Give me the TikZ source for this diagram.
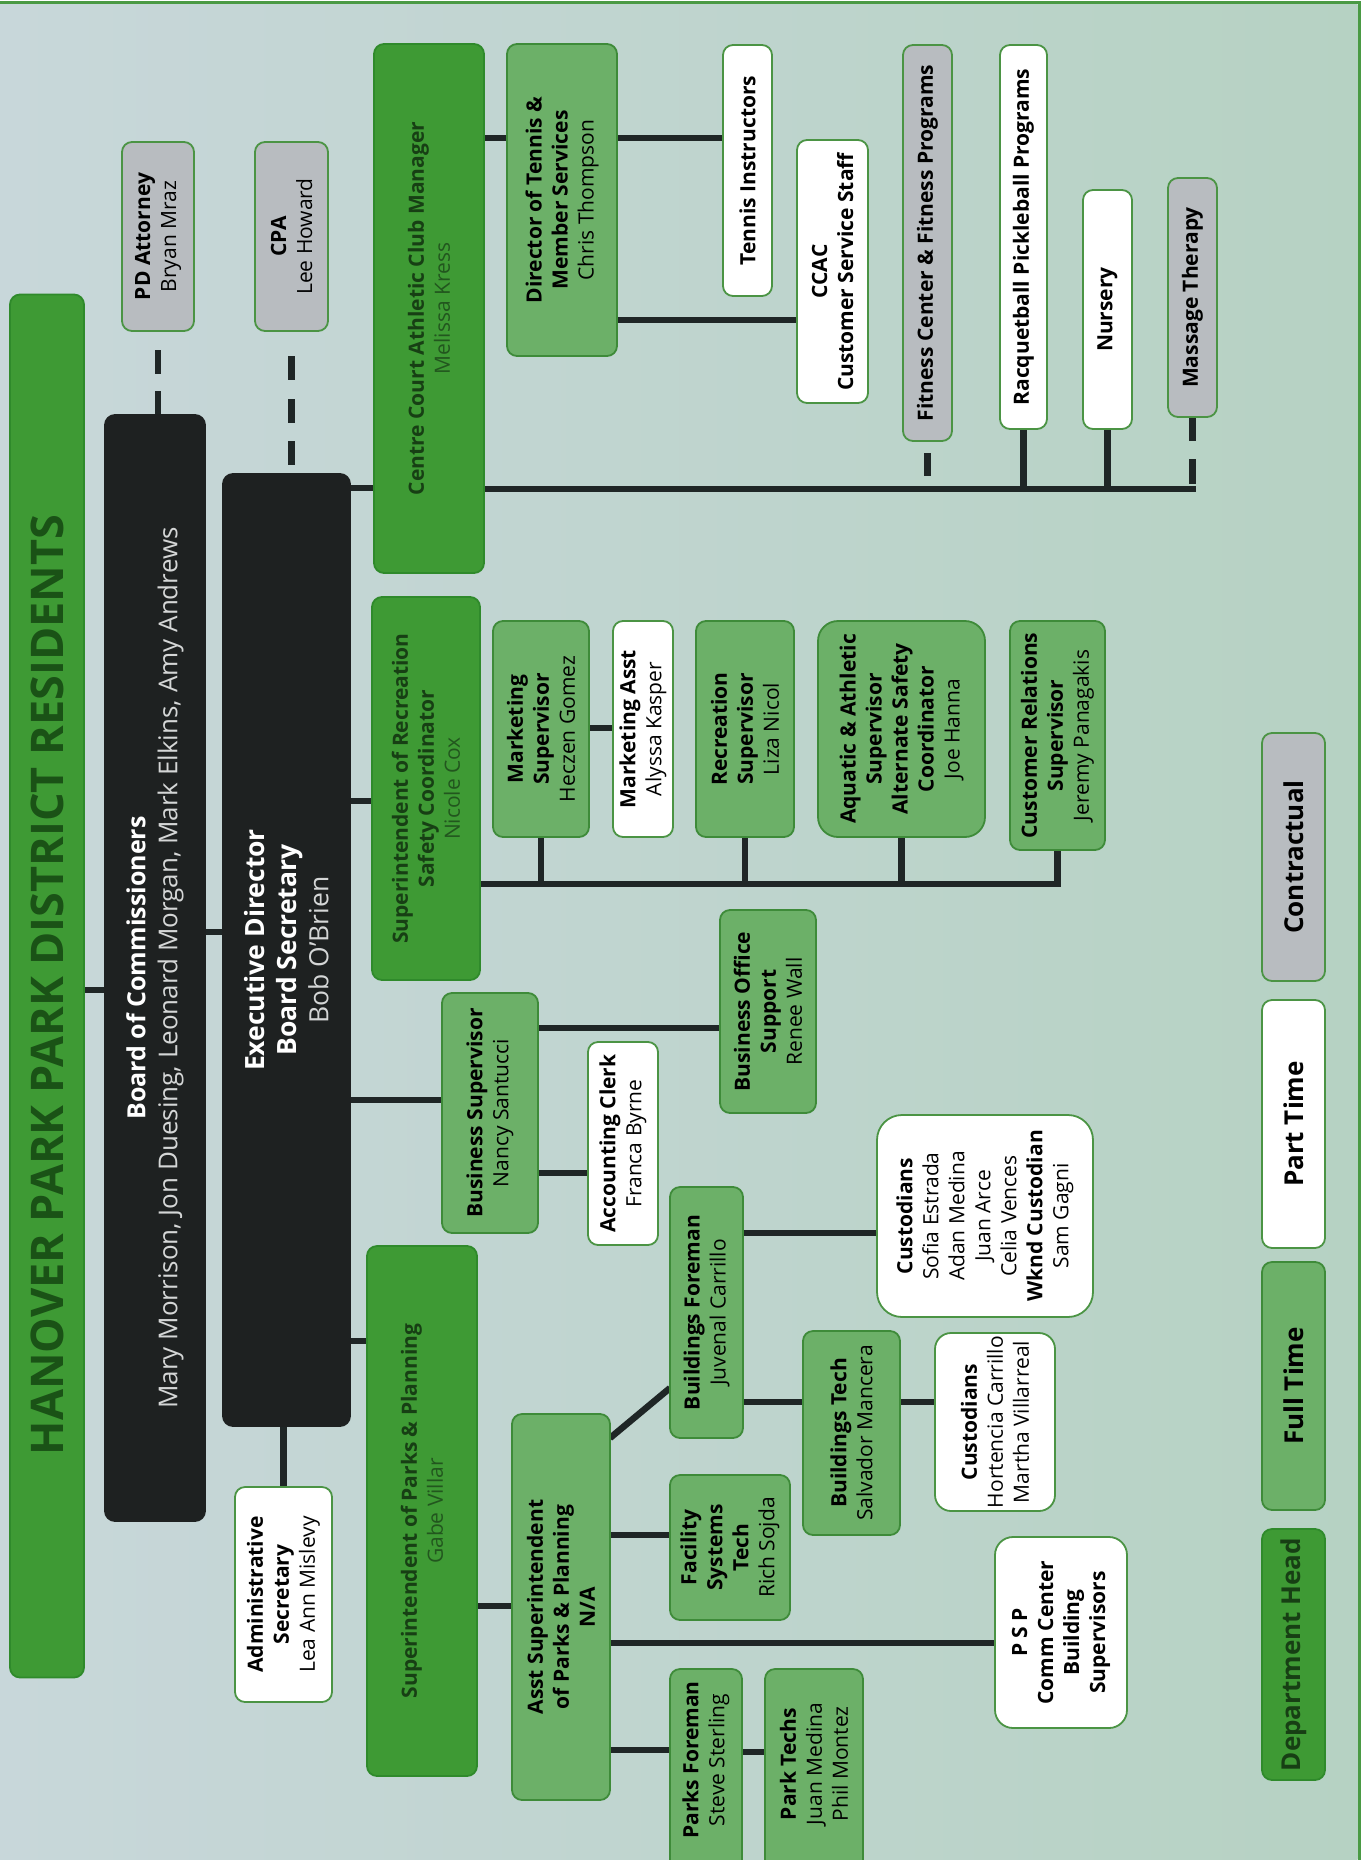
\documentclass[tikz,border=0pt]{standalone}
\usepackage{fontspec}
\setmainfont{Open Sans}
\definecolor{bgl}{HTML}{C8D7DA}
\definecolor{bgr}{HTML}{B6D2C3}
\definecolor{dhfill}{HTML}{3E9A34}
\definecolor{dhline}{HTML}{2F8A2B}
\definecolor{ftfill}{HTML}{6CB068}
\definecolor{ftline}{HTML}{3E8B39}
\definecolor{ptline}{HTML}{4B9444}
\definecolor{ctfill}{HTML}{B8BCC0}
\definecolor{blkfill}{HTML}{1E2121}
\definecolor{wirec}{HTML}{1F2626}
\definecolor{dhtext}{HTML}{173F14}
\definecolor{dhname}{HTML}{22561E}
\definecolor{titletxt}{HTML}{1A5216}
\definecolor{lgray}{HTML}{D4D6D6}
\definecolor{framec}{HTML}{4A9A44}
\pgfdeclarelayer{bgzero}
\pgfdeclarelayer{wires}
\pgfsetlayers{bgzero,wires,main}
\tikzset{
  box/.style={rounded corners=10pt, inner sep=0pt, outer sep=0pt, line width=1.8pt},
  sz/.style 2 args={minimum width=#1pt, minimum height=#2pt},
  dh/.style={box, fill=dhfill, draw=dhline},
  ft/.style={box, fill=ftfill, draw=ftline},
  ptbox/.style={box, fill=white, draw=ptline},
  ctbox/.style={box, fill=ctfill, draw=ptline},
  blk/.style={box, fill=blkfill, draw=blkfill},
  lbl/.style={rotate=90, align=center, inner sep=0pt, font=\fontsize{21}{26}\selectfont, text=black},
  dhlbl/.style={lbl, text=dhtext},
  leg/.style={rotate=90, align=center, inner sep=0pt, font=\fontsize{26}{30}\selectfont\bfseries, text=black},
  wire/.style={draw=wirec, line width=6.5pt},
}
\begin{document}
\begin{tikzpicture}[x=1pt,y=-1pt]
\useasboundingbox (0,0) rectangle (1364,1860);
\begin{pgfonlayer}{bgzero}
  \fill[white] (0,0) rectangle (1364,1860);
  \shade[left color=bgl, right color=bgr] (0,4.5) rectangle (1357.5,1860);
  \draw[framec, line width=3pt] (0,3) -- (1359,3) -- (1359,1860);
\end{pgfonlayer}

% ---------- boxes ----------
\node[dh, sz={74}{1383}] (title) at (47,986) {};
\node[lbl, text=titletxt, font=\fontsize{45}{50}\selectfont\bfseries] (titlet) at (47,985) {HANOVER PARK PARK DISTRICT RESIDENTS};

\node[blk, sz={100}{1106}] (board) at (155,968) {};
\node[lbl, text=white, font=\fontsize{25}{32}\selectfont] (boardt) at (board) {\textbf{Board of Commissioners}\\{\color{lgray}\fontsize{26}{32}\selectfont Mary Morrison, Jon Duesing, Leonard Morgan, Mark Elkins, Amy Andrews}};

\node[blk, sz={127}{952}] (exec) at (286.5,950) {};
\node[lbl, text=white, font=\fontsize{26.5}{32}\selectfont] (exect) at (exec) {\textbf{Executive Director}\\\textbf{Board Secretary}\\{\color{lgray}Bob O'Brien}};

\node[ctbox, sz={72}{189}] (pd) at (158,236.5) {};
\node[lbl] (pdt) at (pd) {\textbf{PD Attorney}\\Bryan Mraz};
\node[ctbox, sz={73}{189}] (cpa) at (291.5,236.5) {};
\node[lbl] (cpat) at (cpa) {\textbf{CPA}\\Lee Howard};

\node[dh, sz={110}{529}] (cc) at (429,308.5) {};
\node[dhlbl] (cct) at (cc) {\textbf{Centre Court Athletic Club Manager}\\{\color{dhname}Melissa Kress}};
\node[ft, sz={110}{312}] (dirt) at (562,200) {};
\node[lbl] (dirtt) at (dirt) {\textbf{Director of Tennis \&}\\\textbf{Member Services}\\Chris Thompson};
\node[ptbox, sz={49}{251}] (tennis) at (747.5,170.5) {};
\node[lbl] (tennist) at (tennis) {\textbf{Tennis Instructors}};
\node[ptbox, sz={71}{263}] (ccac) at (832.5,271.5) {};
\node[lbl] (ccact) at (ccac) {\textbf{CCAC}\\\textbf{Customer Service Staff}};
\node[ctbox, sz={49}{396}] (fit) at (927.5,243) {};
\node[lbl] (fitt) at (fit) {\textbf{Fitness Center \& Fitness Programs}};
\node[ptbox, sz={47}{384}] (racq) at (1023.5,237) {};
\node[lbl] (racqt) at (racq) {\textbf{Racquetball Pickleball Programs}};
\node[ptbox, sz={49}{239}] (nurs) at (1107.5,309.5) {};
\node[lbl] (nurst) at (nurs) {\textbf{Nursery}};
\node[ctbox, sz={49}{239}] (mass) at (1192.5,297.5) {};
\node[lbl] (masst) at (mass) {\textbf{Massage Therapy}};

\node[dh, sz={108}{383}] (suprec) at (426,788.5) {};
\node[dhlbl] (suprect) at (suprec) {\textbf{Superintendent of Recreation}\\\textbf{Safety Coordinator}\\{\color{dhname}Nicole Cox}};
\node[ft, sz={96}{216}] (mkt) at (541,729) {};
\node[lbl] (mktt) at (mkt) {\textbf{Marketing}\\\textbf{Supervisor}\\Heczen Gomez};
\node[ptbox, sz={60}{216}] (mkta) at (643,729) {};
\node[lbl] (mktat) at (mkta) {\textbf{Marketing Asst}\\Alyssa Kasper};
\node[ft, sz={98}{216}] (recs) at (745,729) {};
\node[lbl] (recst) at (recs) {\textbf{Recreation}\\\textbf{Supervisor}\\Liza Nicol};
\node[ft, sz={167}{216}, rounded corners=20pt] (aqua) at (901.5,729) {};
\node[lbl] (aquat) at (aqua) {\textbf{Aquatic \& Athletic}\\\textbf{Supervisor}\\\textbf{Alternate Safety}\\\textbf{Coordinator}\\Joe Hanna};
\node[ft, sz={95}{229}] (custrel) at (1057.5,735.5) {};
\node[lbl] (custrelt) at (custrel) {\textbf{Customer Relations}\\\textbf{Supervisor}\\Jeremy Panagakis};

\node[ft, sz={96}{240}] (bus) at (490,1113) {};
\node[lbl] (bust) at (bus) {\textbf{Business Supervisor}\\Nancy Santucci};
\node[ft, sz={96}{203}] (bos) at (768,1011.5) {};
\node[lbl] (bost) at (bos) {\textbf{Business Office}\\\textbf{Support}\\Renee Wall};
\node[ptbox, sz={70}{203}] (acct) at (623,1143.5) {};
\node[lbl] (acctt) at (acct) {\textbf{Accounting Clerk}\\Franca Byrne};

\node[ft, sz={73}{251}] (bf) at (706.5,1312.5) {};
\node[lbl] (bft) at (bf) {\textbf{Buildings Foreman}\\Juvenal Carrillo};
\node[ptbox, sz={216}{202}, rounded corners=25pt] (cust1) at (985,1216) {};
\node[lbl] (cust1t) at (cust1) {\textbf{Custodians}\\Sofia Estrada\\Adan Medina\\Juan Arce\\Celia Vences\\\textbf{Wknd Custodian}\\Sam Gagni};
\node[ft, sz={97}{204}] (bt) at (851.5,1433) {};
\node[lbl] (btt) at (bt) {\textbf{Buildings Tech}\\Salvador Mancera};
\node[ptbox, sz={120}{178}, rounded corners=16pt] (cust2) at (995,1422) {};
\node[lbl] (cust2t) at (cust2) {\textbf{Custodians}\\Hortencia Carrillo\\Martha Villarreal};

\node[dh, sz={110}{530}] (supp) at (422,1511) {};
\node[dhlbl] (suppt) at (supp) {\textbf{Superintendent of Parks \& Planning}\\{\color{dhname}Gabe Villar}};
\node[ptbox, sz={97}{215}] (admin) at (283.5,1594.5) {};
\node[lbl] (admint) at (admin) {\textbf{Administrative}\\\textbf{Secretary}\\Lea Ann Mislevy};
\node[ft, sz={98}{386}] (asst) at (561,1607) {};
\node[lbl] (asstt) at (asst) {\textbf{Asst Superintendent}\\\textbf{of Parks \& Planning}\\\textbf{N/A}};
\node[ft, sz={120}{145}] (fac) at (730,1547.5) {};
\node[lbl] (fact) at (fac) {\textbf{Facility}\\\textbf{Systems}\\\textbf{Tech}\\Rich Sojda};
\node[ptbox, sz={132}{191}, rounded corners=18pt] (psp) at (1061,1632.5) {};
\node[lbl] (pspt) at (psp) {\textbf{P S P}\\\textbf{Comm Center}\\\textbf{Building}\\\textbf{Supervisors}};
\node[ft, sz={72}{211}] (pf) at (706,1774.5) {};
\node[lbl] (pft) at (706,1760) {\textbf{Parks Foreman}\\Steve Sterling};
\node[ft, sz={98}{211}] (ptech) at (814,1774.5) {};
\node[lbl] (ptecht) at (814,1764) {\textbf{Park Techs}\\Juan Medina\\Phil Montez};

% legend
\node[ctbox, sz={63}{248}] (lc) at (1293.5,857) {};
\node[leg] (lct) at (lc) {Contractual};
\node[ptbox, sz={63}{248}] (lp) at (1293.5,1124) {};
\node[leg] (lpt) at (lp) {Part Time};
\node[ft, sz={63}{248}] (lf) at (1293.5,1386) {};
\node[leg] (lft) at (lf) {Full Time};
\node[dh, sz={63}{251}] (ld) at (1293.5,1654.5) {};
\node[leg, text=dhtext] (ldt) at (ld) {Department Head};

% ---------- connectors ----------
\begin{pgfonlayer}{wires}
  \draw[wire] (title.east |- 0,990) -- (board.west |- 0,990);
  \draw[wire] (board.east |- 0,932) -- (exec.west |- 0,932);
  \draw[wire, dash pattern=on 24pt off 17pt on 24pt off 19pt, dash phase=65pt] (pd.south) -- (pd.south |- board.north);
  \draw[wire, dash pattern=on 24pt off 19pt on 24pt off 18pt on 24pt off 34pt, dash phase=118pt] (cpa.south) -- (cpa.south |- exec.north);
  \draw[wire] (exec.east |- 0,488) -- (cc.west |- 0,488);
  \draw[wire] (cc.east |- 0,138) -- (tennis.west |- 0,138);
  \draw[wire] (dirt.east |- 0,320) -- (ccac.west |- 0,320);
  \draw[wire, line cap=rect] (cc.east |- 0,489) -- (mass.south |- 0,489);
  \draw[wire, dash pattern=on 23pt off 26pt, dash phase=37pt] (fit.south) -- (fit.south |- 0,489);
  \draw[wire] (racq.south) -- (racq.south |- 0,489);
  \draw[wire] (nurs.south) -- (nurs.south |- 0,489);
  \draw[wire, dash pattern=on 24pt off 18pt on 25pt off 20pt] (mass.south) -- (mass.south |- 0,489);

  \draw[wire] (exec.east |- 0,801) -- (suprec.west |- 0,801);
  \draw[wire, line join=miter] (suprec.east |- 0,884) -- (custrel.south |- 0,884) -- (custrel.south);
  \draw[wire] (mkt.south) -- (mkt.south |- 0,884);
  \draw[wire] (recs.south) -- (recs.south |- 0,884);
  \draw[wire] (aqua.south) -- (aqua.south |- 0,884);
  \draw[wire] (mkt.east |- 0,728) -- (mkta.west |- 0,728);

  \draw[wire] (exec.east |- 0,1100) -- (bus.west |- 0,1100);
  \draw[wire] (bus.east |- 0,1028) -- (bos.west |- 0,1028);
  \draw[wire] (bus.east |- 0,1173) -- (acct.west |- 0,1173);

  \draw[wire] (bf.east |- 0,1233) -- (cust1.west |- 0,1233);
  \draw[wire] (bf.east |- 0,1402) -- (bt.west |- 0,1402);
  \draw[wire] (bt.east |- 0,1402) -- (cust2.west |- 0,1402);

  \draw[wire] (exec.east |- 0,1341) -- (supp.west |- 0,1341);
  \draw[wire] (admin.north |- exec.south) -- (admin.north);
  \draw[wire] (supp.east |- 0,1606) -- (asst.west |- 0,1606);
  \draw[wire] (asst.east |- 0,1438) -- (bf.west |- 0,1388);
  \draw[wire] (asst.east |- 0,1535) -- (fac.west |- 0,1535);
  \draw[wire] (asst.east |- 0,1643) -- (psp.west |- 0,1643);
  \draw[wire] (asst.east |- 0,1750) -- (pf.west |- 0,1750);
  \draw[wire] (pf.east |- 0,1752) -- (ptech.west |- 0,1752);
\end{pgfonlayer}
\end{tikzpicture}
\end{document}
